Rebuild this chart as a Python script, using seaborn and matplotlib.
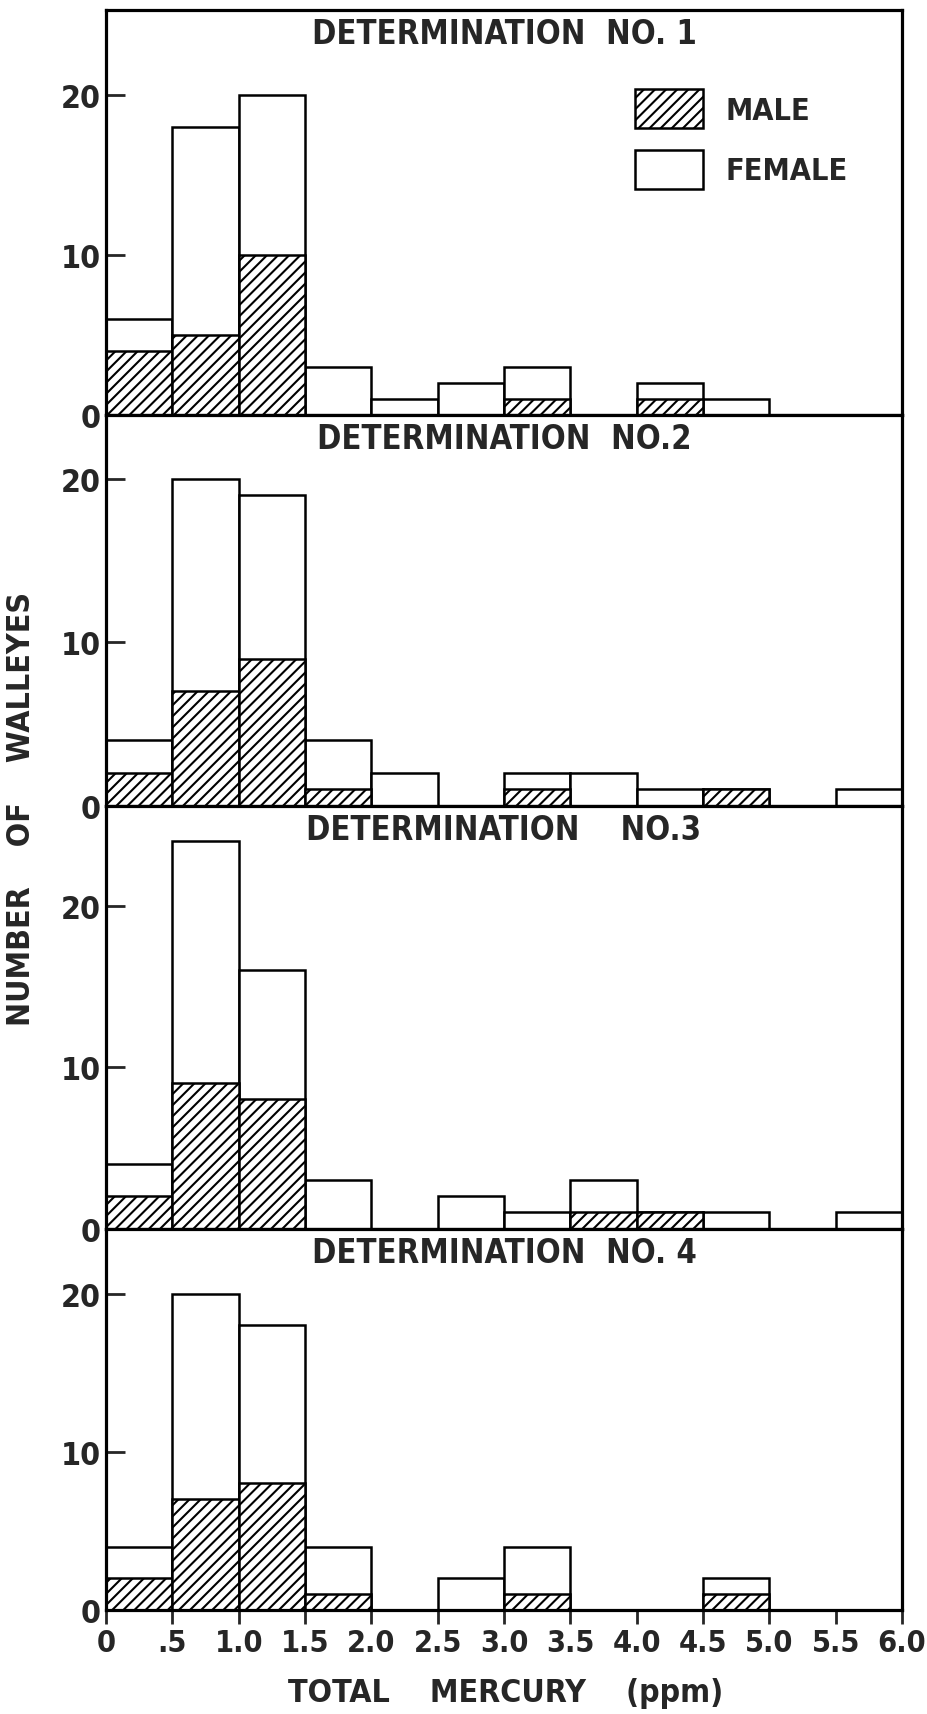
import numpy as np
import pandas as pd
import seaborn as sns
import matplotlib.pyplot as plt
from matplotlib.patches import Patch

# bin edges (ppm) and counts
edges = [0.0, 0.5, 1.0, 1.5, 2.0, 2.5, 3.0, 3.5, 4.0, 4.5, 5.0, 5.5, 6.0]
centers = [0.25, 0.75, 1.25, 1.75, 2.25, 2.75, 3.25, 3.75, 4.25, 4.75, 5.25, 5.75]
tick_labels = ['0', '.5', '1.0', '1.5', '2.0', '2.5', '3.0', '3.5',
               '4.0', '4.5', '5.0', '5.5', '6.0']

titles = ['DETERMINATION  NO. 1', 'DETERMINATION  NO.2',
          'DETERMINATION    NO.3', 'DETERMINATION  NO. 4']

male_1 = [4, 5, 10, 0, 0, 0, 1, 0, 1, 0, 0, 0]
female_1 = [2, 13, 10, 3, 1, 2, 2, 0, 1, 1, 0, 0]
male_2 = [2, 7, 9, 1, 0, 0, 1, 0, 0, 1, 0, 0]
female_2 = [2, 13, 10, 3, 2, 0, 1, 2, 1, 0, 0, 1]
male_3 = [2, 9, 8, 0, 0, 0, 0, 1, 1, 0, 0, 0]
female_3 = [2, 15, 8, 3, 0, 2, 1, 2, 0, 1, 0, 1]
male_4 = [2, 7, 8, 1, 0, 0, 1, 0, 0, 1, 0, 0]
female_4 = [2, 13, 10, 3, 0, 2, 3, 0, 0, 1, 0, 0]

males = [male_1, male_2, male_3, male_4]
females = [female_1, female_2, female_3, female_4]
ytops = [25.3, 23.9, 26.2, 24.1]
heights = [371, 357, 387, 349]

sns.set_style('white')
plt.rcParams['font.family'] = ['DejaVu Sans']
plt.rcParams['font.stretch'] = 'condensed'
plt.rcParams['font.weight'] = 'bold'
plt.rcParams['hatch.linewidth'] = 1.5

fig, axes = plt.subplots(4, 1, figsize=(9.27, 17.15), dpi=100, sharex=True,
                         gridspec_kw={'height_ratios': heights, 'hspace': 0})
fig.subplots_adjust(left=0.1143, right=0.973, top=0.9936, bottom=0.0606)

for i, ax in enumerate(axes):
    df = pd.DataFrame({'x': centers,
                       'male': males[i],
                       'total': np.array(males[i]) + np.array(females[i])})
    # outline of total count, then hatched male part from the base
    sns.histplot(data=df, x='x', weights='total', bins=edges, ax=ax,
                 color='white', edgecolor='black', linewidth=1.8, alpha=1)
    sns.histplot(data=df, x='x', weights='male', bins=edges, ax=ax,
                 color='white', edgecolor='black', linewidth=1.8, alpha=1,
                 hatch='///')
    ax.set_xlim(0, 6)
    ax.set_ylim(0, ytops[i])
    ax.set_yticks([0, 10, 20])
    ax.set_yticklabels(['0', '10', '20'])
    ax.set_xlabel('')
    ax.set_ylabel('')
    for s in ax.spines.values():
        s.set_linewidth(2.3)
        s.set_color('black')
    ax.tick_params(axis='y', direction='in', length=14, width=2, left=True,
                   labelsize=23, pad=4)
    ax.tick_params(axis='x', bottom=False, labelbottom=False)
    ax.annotate(titles[i], xy=(0.5, 1), xycoords='axes fraction',
                xytext=(0, -5), textcoords='offset points',
                ha='center', va='top', fontsize=23.5)

axes[-1].set_xticks(edges)
axes[-1].set_xticklabels(tick_labels)
axes[-1].tick_params(axis='x', bottom=True, labelbottom=True, direction='out',
                     length=10, width=2, labelsize=22, pad=3)

handles = [Patch(facecolor='white', edgecolor='black', linewidth=1.8, hatch='///'),
           Patch(facecolor='white', edgecolor='black', linewidth=1.8)]
axes[0].legend(handles, ['MALE', 'FEMALE'], loc='upper left',
               bbox_to_anchor=(0.665, 0.805), frameon=False, fontsize=22,
               handlelength=2.2, handleheight=1.6, labelspacing=0.7,
               handletextpad=0.75, borderpad=0, borderaxespad=0)

fig.text(22 / 927, 1 - 809 / 1715, 'NUMBER    OF    WALLEYES', rotation=90,
         ha='center', va='center', fontsize=23)
fig.text(506 / 927, 1 - 1694 / 1715, 'TOTAL    MERCURY    (ppm)',
         ha='center', va='center', fontsize=23)

plt.savefig('out.png', dpi=100)
